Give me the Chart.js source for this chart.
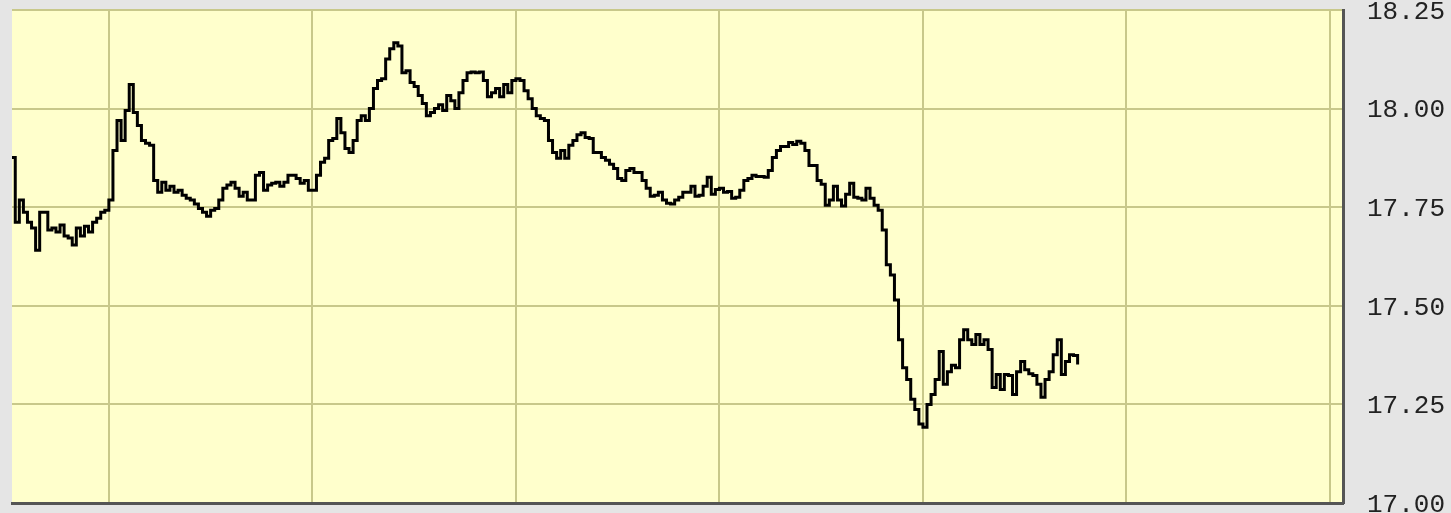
<!DOCTYPE html>
<html>
<head>
<meta charset="utf-8">
<script src="https://cdn.jsdelivr.net/npm/chart.js@4.4.1/dist/chart.umd.min.js"></script>
<style>
  html, body { margin: 0; padding: 0; background: #e5e5e5; }
  #wrap { width: 1451px; height: 513px; }
</style>
</head>
<body>
<div id="wrap"><canvas id="price-chart"></canvas></div>
<script>
// harga per sampel (kiri ke kanan)
var prices = [
  17.876, 17.712, 17.768, 17.737, 17.712, 17.697, 17.641, 17.737, 17.737, 17.692,
  17.697, 17.687, 17.705, 17.677, 17.672, 17.654, 17.697, 17.677, 17.702, 17.687,
  17.712, 17.722, 17.737, 17.742, 17.768, 17.894, 17.970, 17.919, 17.995, 18.061,
  17.990, 17.957, 17.919, 17.912, 17.907, 17.818, 17.788, 17.813, 17.793, 17.803,
  17.788, 17.793, 17.780, 17.773, 17.768, 17.758, 17.747, 17.737, 17.727, 17.742,
  17.747, 17.768, 17.798, 17.806, 17.813, 17.798, 17.778, 17.788, 17.768, 17.768,
  17.831, 17.838, 17.793, 17.806, 17.811, 17.813, 17.803, 17.813, 17.831, 17.831,
  17.823, 17.811, 17.818, 17.793, 17.793, 17.831, 17.864, 17.874, 17.919, 17.924,
  17.975, 17.939, 17.899, 17.889, 17.919, 17.970, 17.982, 17.970, 18.000, 18.051,
  18.071, 18.076, 18.126, 18.152, 18.167, 18.159, 18.091, 18.096, 18.066, 18.056,
  18.033, 18.013, 17.982, 17.990, 18.000, 18.010, 17.995, 18.033, 18.020, 18.000,
  18.040, 18.071, 18.091, 18.093, 18.091, 18.093, 18.071, 18.030, 18.040, 18.051,
  18.030, 18.061, 18.040, 18.071, 18.076, 18.071, 18.045, 18.025, 18.000, 17.982,
  17.975, 17.970, 17.919, 17.889, 17.874, 17.894, 17.874, 17.907, 17.919, 17.934,
  17.939, 17.927, 17.924, 17.889, 17.889, 17.876, 17.869, 17.859, 17.848, 17.823,
  17.818, 17.843, 17.848, 17.838, 17.838, 17.818, 17.798, 17.778, 17.780, 17.788,
  17.768, 17.760, 17.758, 17.768, 17.775, 17.788, 17.788, 17.803, 17.778, 17.780,
  17.803, 17.826, 17.783, 17.795, 17.798, 17.788, 17.790, 17.773, 17.775, 17.793,
  17.818, 17.823, 17.831, 17.828, 17.828, 17.826, 17.843, 17.876, 17.894, 17.904,
  17.904, 17.914, 17.909, 17.917, 17.912, 17.894, 17.856, 17.856, 17.818, 17.808,
  17.755, 17.768, 17.803, 17.768, 17.753, 17.783, 17.811, 17.775, 17.773, 17.768,
  17.798, 17.773, 17.755, 17.742, 17.692, 17.604, 17.578, 17.515, 17.414, 17.343,
  17.313, 17.263, 17.237, 17.200, 17.192, 17.250, 17.275, 17.313, 17.384, 17.301,
  17.333, 17.349, 17.343, 17.414, 17.439, 17.414, 17.402, 17.427, 17.402, 17.414,
  17.389, 17.293, 17.326, 17.288, 17.326, 17.323, 17.275, 17.333, 17.359, 17.338,
  17.328, 17.323, 17.301, 17.268, 17.313, 17.333, 17.376, 17.414, 17.326, 17.359,
  17.376, 17.374, 17.351
];

// nomor sampel pertama
var firstSample = -24;

// garis grid vertikal (nomor sampel)
var gridSamples = [0, 50, 100, 150, 200, 250, 300];

// label sumbu harga
var priceTicks = [17.00, 17.25, 17.50, 17.75, 18.00, 18.25];

var points = prices.map(function (p, i) {
  return { x: firstSample + i, y: p };
});

// latar kuning untuk area plot
var plotBg = {
  id: 'plotBg',
  beforeDraw: function (chart) {
    var a = chart.chartArea;
    var c = chart.ctx;
    c.save();
    c.fillStyle = '#ffffcc';
    c.fillRect(a.left, a.top, a.right - a.left, a.bottom - a.top);
    c.restore();
  }
};

var ctx = document.getElementById('price-chart').getContext('2d');

var priceChart = new Chart(ctx, {
  type: 'line',
  data: {
    datasets: [{
      data: points,
      borderColor: '#000000',
      borderWidth: 3,
      pointRadius: 0,
      stepped: true,
      tension: 0
    }]
  },
  options: {
    responsive: true,
    maintainAspectRatio: false,
    animation: false,
    layout: { padding: { left: 12, top: 10, right: 0, bottom: 10 } },
    plugins: { legend: { display: false }, tooltip: { enabled: false } },
    scales: {
      x: {
        type: 'linear',
        min: -23.8,
        max: 303.2,
        grid: { color: '#c8c88a', lineWidth: 2, drawTicks: false },
        border: { display: true, color: '#555555', width: 3 },
        afterBuildTicks: function (scale) {
          scale.ticks = gridSamples.map(function (v) { return { value: v }; });
        },
        ticks: { display: false },
        afterFit: function (scale) { scale.height = 0; }
      },
      y: {
        position: 'right',
        min: 17,
        max: 18.25,
        grid: { color: '#c8c88a', lineWidth: 2, drawTicks: false },
        border: { display: true, color: '#555555', width: 3 },
        afterBuildTicks: function (scale) {
          scale.ticks = priceTicks.map(function (v) { return { value: v }; });
        },
        ticks: {
          padding: 24,
          labelOffset: 2,
          color: '#222222',
          font: { family: 'Liberation Mono', size: 26 },
          callback: function (v) { return Number(v).toFixed(2); }
        },
        afterFit: function (scale) {
          scale.width = 108;
          scale.paddingTop = 0;
          scale.paddingBottom = 0;
        }
      }
    }
  },
  plugins: [plotBg]
});
</script>
</body>
</html>
